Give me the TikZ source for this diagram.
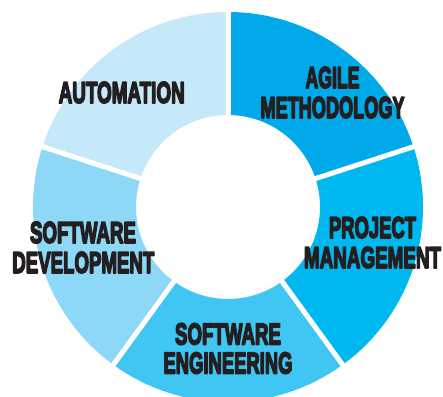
\documentclass[tikz,border=0pt]{standalone}
\usepackage{fontspec}
\setmainfont{Liberation Sans}
\usepackage{graphicx}
\definecolor{cAgile}{HTML}{00AAEA}
\definecolor{cProj}{HTML}{00B8F0}
\definecolor{cEng}{HTML}{40C6F2}
\definecolor{cDev}{HTML}{8DD8F6}
\definecolor{cAuto}{HTML}{C6E9F9}
\definecolor{txt}{HTML}{231F20}
\tikzset{
  lbl/.style={inner sep=0pt, text=txt, font=\bfseries},
  gapline/.style={white, line width=5pt},
}
\newcommand{\seg}[3]{%
  \fill[#3] (#1:195) arc[start angle=#1, end angle=#2, radius=195]
     -- (#2:92) arc[start angle=#2, end angle=#1, radius=92] -- cycle;}
\newcommand{\capt}[2]{\resizebox{#1pt}{21pt}{\special{pdf:literal direct 2 Tr 0.6 w 1 j 1 J}#2\special{pdf:literal direct 0 Tr}}}
\begin{document}
\begin{tikzpicture}[x=1pt,y=1pt]
\useasboundingbox (0,0) rectangle (443,396);
\clip (0,0) rectangle (443,396);
\fill[white] (0,0) rectangle (443,396);
\begin{scope}[shift={(228,189)}]
  \seg{18}{90}{cAgile}
  \seg{-54}{18}{cProj}
  \seg{-126}{-54}{cEng}
  \seg{162}{234}{cDev}
  \seg{90}{162}{cAuto}
  \foreach \a in {90,18,-54,-126,162}
    \draw[gapline] (\a:88) -- (\a:200);
\end{scope}
\node[lbl] (auto) at (121.7,303.5) {\capt{126}{AUTOMATION}};
\node[lbl] (ag1) at (332.5,318.5) {\capt{54}{AGILE}};
\node[lbl] (ag2) at (332.5,288.5) {\capt{144}{METHODOLOGY}};
\node[lbl] (pm1) at (372.5,168.5) {\capt{87}{PROJECT}};
\node[lbl] (pm2) at (372.5,138.5) {\capt{137}{MANAGEMENT}};
\node[lbl] (sd1) at (83,163.5) {\capt{106}{SOFTWARE}};
\node[lbl] (sd2) at (83.3,133.5) {\capt{142}{DEVELOPMENT}};
\node[lbl] (se1) at (228,62) {\capt{106}{SOFTWARE}};
\node[lbl] (se2) at (228,33) {\capt{129}{ENGINEERING}};
\end{tikzpicture}
\end{document}
